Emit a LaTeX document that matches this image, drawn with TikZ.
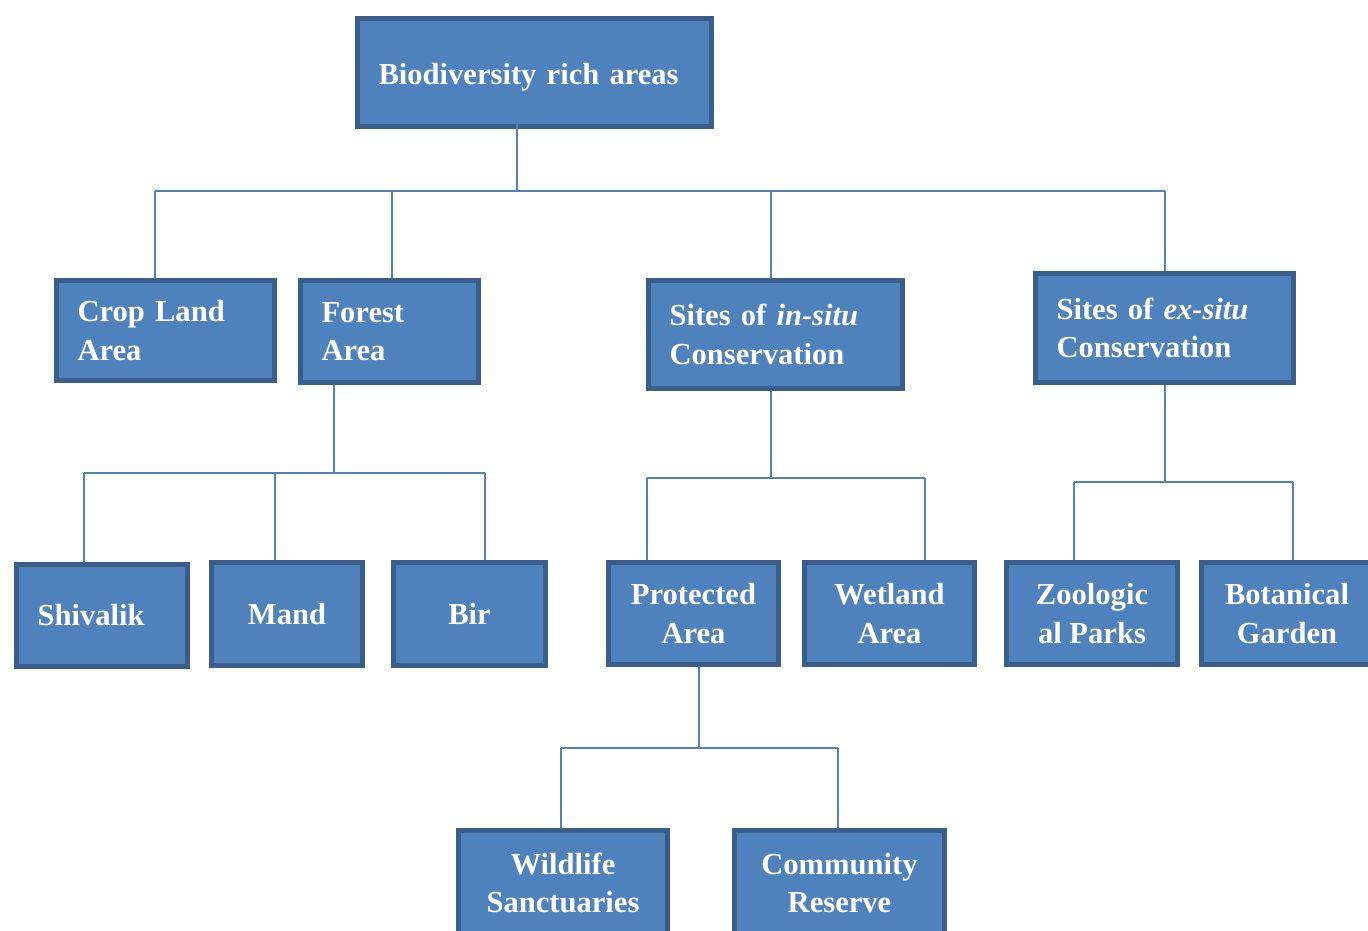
\documentclass[tikz,border=0pt]{standalone}
\usepackage{fontspec}
\setmainfont{Liberation Serif}
\usetikzlibrary{calc}
\definecolor{boxfill}{HTML}{4F81BD}
\definecolor{boxline}{HTML}{3A5E8C}
\tikzset{
	box/.style={rectangle,draw=boxline,fill=boxfill,line width=0.1cm,text=white,font=\bfseries\fontsize{17.4}{22}\selectfont,inner ysep=0pt},
	lbox/.style={box,align=left,inner xsep=0.42cm},
	cbox/.style={box,align=center,inner xsep=0pt},
	link/.style={draw=boxfill,line width=0.04cm}
}
\begin{document}
\begin{tikzpicture}[x=0.02cm,y=-0.02cm]
			\useasboundingbox (0,0) rectangle (1368,930);
			\clip (0,0) rectangle (1368,930);
			\node[lbox,text width=6.24cm,minimum height=2.16cm](root) at (534.5,72.5) {\raisebox{-0.23cm}[0pt][0pt]{Biodiversity rich areas}};
			\node[lbox,text width=3.52cm,minimum height=2cm](crop) at (165.5,330.5) {Crop Land\\Area};
			\node[lbox,text width=2.72cm,minimum height=2.04cm](forest) at (389.5,331.5) {Forest\\Area};
			\node[lbox,text width=4.24cm,minimum height=2.16cm](insitu) at (775.5,334.5) {Sites of \textit{in-situ}\\Conservation};
			\node[lbox,text width=4.32cm,minimum height=2.18cm](exsitu) at (1164.5,328) {Sites of \textit{ex-situ}\\Conservation};
			\node[lbox,text width=2.58cm,minimum height=2.04cm](shivalik) at (102,615.5) {Shivalik};
			\node[cbox,minimum width=3.02cm,minimum height=2.06cm](mand) at (287,614) {Mand};
			\node[cbox,minimum width=3.04cm,minimum height=2.06cm](bir) at (469.5,614) {Bir};
			\node[cbox,minimum width=3.4cm,minimum height=2.04cm](protected) at (693.5,613.5) {Protected\\Area};
			\node[cbox,minimum width=3.4cm,minimum height=2.04cm](wetland) at (889.5,613.5) {Wetland\\Area};
			\node[cbox,minimum width=3.42cm,minimum height=2.04cm](zoo) at (1092,613.5) {Zoologic\\al Parks};
			\node[cbox,minimum width=3.42cm,minimum height=2.04cm](botanical) at (1287,613.5) {Botanical\\Garden};
			\node[cbox,minimum width=4.18cm,minimum height=2.1cm](wildlife) at (563,883) {Wildlife\\Sanctuaries};
			\node[cbox,minimum width=4.2cm,minimum height=2.1cm](community) at (839.5,883) {Community\\Reserve};
			
			\coordinate (t0) at (517,191);
			\coordinate (t1) at (155,191);
			\coordinate (t2) at (392,191);
			\coordinate (t3) at (771,191);
			\coordinate (t4) at (1165,191);
			\draw[link] ($(root.center -| t0)+(0,13)$) -- (t0);
			\draw[link] (t1) -- (t4);
			\draw[link] (t1) -- (t1 |- crop.north);
			\draw[link] (t2) -- (t2 |- forest.north);
			\draw[link] (t3) -- (t3 |- insitu.north);
			\draw[link] (t4) -- (t4 |- exsitu.north);
			
			\coordinate (f0) at (334,473);
			\coordinate (f1) at (84,473);
			\coordinate (f2) at (275,473);
			\coordinate (f3) at (485,473);
			\draw[link] (forest.south -| f0) -- (f0);
			\draw[link] (f1) -- (f3);
			\draw[link] (f1) -- (f1 |- shivalik.north);
			\draw[link] (f2) -- (f2 |- mand.north);
			\draw[link] (f3) -- (f3 |- bir.north);
			
			\coordinate (s0) at (771,478);
			\coordinate (s1) at (647,478);
			\coordinate (s2) at (925,478);
			\draw[link] (insitu.south -| s0) -- (s0);
			\draw[link] (s1) -- (s2);
			\draw[link] (s1) -- (s1 |- protected.north);
			\draw[link] (s2) -- (s2 |- wetland.north);
			
			\coordinate (e0) at (1165,482);
			\coordinate (e1) at (1074,482);
			\coordinate (e2) at (1293,482);
			\draw[link] (exsitu.south -| e0) -- (e0);
			\draw[link] (e1) -- (e2);
			\draw[link] (e1) -- (e1 |- zoo.north);
			\draw[link] (e2) -- (e2 |- botanical.north);
			
			\coordinate (p0) at (699,748);
			\coordinate (p1) at (561,748);
			\coordinate (p2) at (838,748);
			\draw[link] (protected.south -| p0) -- (p0);
			\draw[link] (p1) -- (p2);
			\draw[link] (p1) -- (p1 |- wildlife.north);
			\draw[link] (p2) -- (p2 |- community.north);
		\end{tikzpicture}
\end{document}
